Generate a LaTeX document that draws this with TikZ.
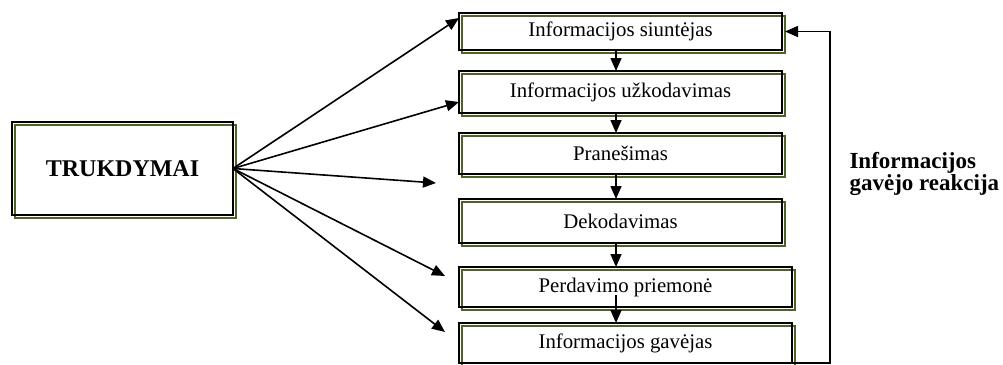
\documentclass[tikz,border=0pt]{standalone}
\usepackage{fontspec}
\setmainfont{Liberation Serif}
\usetikzlibrary{arrows.meta,positioning,backgrounds}
\definecolor{rimgreen}{RGB}{79,98,40}

\begin{document}
\begin{tikzpicture}[x=1pt,y=1pt,
    >={Triangle[length=13pt,width=11pt]},
    stage/.style={draw=black,line width=2.3pt,outer sep=0pt,inner sep=0pt,
        minimum width=323pt,font=\fontsize{20.8}{24}\selectfont},
    noise/.style={draw=black,line width=2.3pt,outer sep=0pt,
        minimum width=221pt,minimum height=93pt,
        font=\fontsize{24}{28}\selectfont\bfseries},
    flow/.style={line width=1.6pt,->},
    rim/.style={draw=rimgreen,line width=1.9pt}]
\useasboundingbox (0,0) rectangle (1003,-364);
\node[noise] (noise) at (122.5,-168.5) {TRUKDYMAI};
\node[stage,minimum height=37pt] (b1) at (620.5,-31.5) {Informacijos siuntėjas};
\node[stage,minimum height=42pt] (b2) at (620.5,-92) {Informacijos užkodavimas};
\node[stage,minimum height=41pt] (b3) at (620.5,-153.5) {Pranešimas};
\node[stage,minimum height=44pt] (b4) at (620.5,-221) {Dekodavimas};
\node[stage,minimum height=40pt,minimum width=333pt] (b5) at (625.5,-287) {Perdavimo priemonė};
\node[stage,minimum height=40pt,minimum width=333pt] (b6) at (625.5,-343) {Informacijos gavėjas};
\node[font=\fontsize{23}{19}\selectfont\bfseries,align=left,anchor=west] (reakcija)
    at (846,-174) {Informacijos\\gavėjo reakcija};
\begin{scope}[on background layer]
\foreach \n in {noise,b1,b2,b3,b4,b5,b6}
    \draw[rim] ([shift={(3,-3)}]\n.south west) rectangle ([shift={(3,-3)}]\n.north east);
\end{scope}
\coordinate (spine) at (616,0);
\coordinate (p5) at (616,-295);
\coordinate (t3) at (436,-183);
\coordinate (t4) at (445,-276);
\coordinate (t5) at (445,-332);
\coordinate (fb) at (830,0);
\draw[flow] (noise.east) -- ([yshift=13.5pt]b1.west);
\draw[flow] (noise.east) -- ([yshift=-10pt]b2.west);
\draw[flow] (noise.east) -- (t3);
\draw[flow] (noise.east) -- (t4);
\draw[flow] (noise.east) -- (t5);
\draw[flow] (b1.south -| spine) -- (b2.north -| spine);
\draw[flow] (b2.south -| spine) -- (b3.north -| spine);
\draw[flow] (b3.south -| spine) -- (b4.north -| spine);
\draw[flow] (b4.south -| spine) -- (b5.north -| spine);
\draw[flow] (p5) -- (b6.north -| spine);
\draw[flow] (b6.south east) -- (b6.south east -| fb) |- ([xshift=3pt]b1.east);
\end{tikzpicture}
\end{document}
